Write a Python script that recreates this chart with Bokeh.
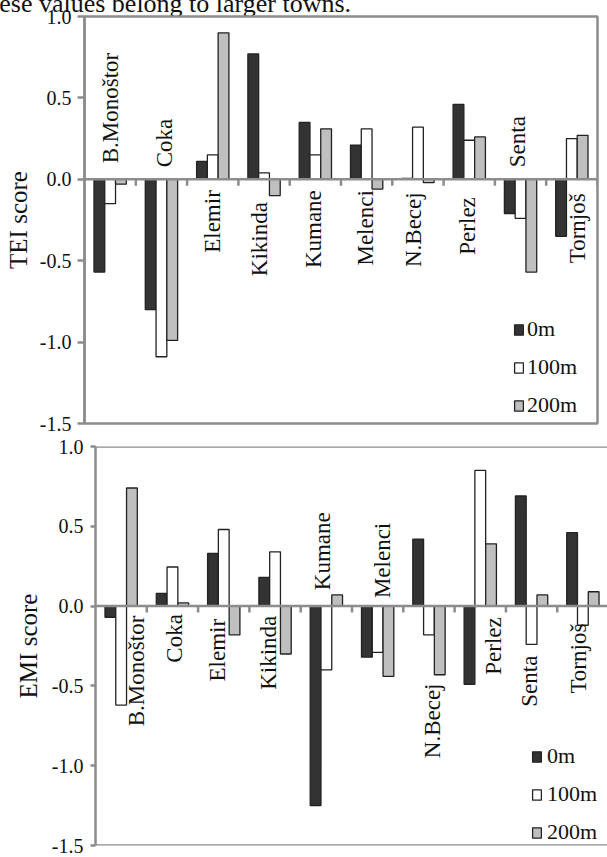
import math
from bokeh.plotting import figure
from bokeh.models import (ColumnDataSource, Range1d, FixedTicker, NumeralTickFormatter,
                          Legend, LegendItem, Span, Div)
from bokeh.embed import file_html
from bokeh.resources import INLINE
from bokeh.core.properties import value

# ---------------- data ----------------
towns = ["B.Monoštor", "Coka", "Elemir", "Kikinda", "Kumane",
         "Melenci", "N.Becej", "Perlez", "Senta", "Tornjoš"]
series_names = ["0m", "100m", "200m"]

tei_0m = [-0.57, -0.80, 0.11, 0.77, 0.35, 0.21, 0.005, 0.46, -0.21, -0.35]
tei_100m = [-0.15, -1.09, 0.15, 0.04, 0.15, 0.31, 0.32, 0.24, -0.24, 0.25]
tei_200m = [-0.03, -0.99, 0.90, -0.10, 0.31, -0.06, -0.02, 0.26, -0.57, 0.27]

emi_0m = [-0.07, 0.08, 0.33, 0.18, -1.25, -0.32, 0.42, -0.49, 0.69, 0.46]
emi_100m = [-0.62, 0.245, 0.48, 0.34, -0.40, -0.29, -0.18, 0.85, -0.24, -0.12]
emi_200m = [0.74, 0.02, -0.18, -0.30, 0.07, -0.44, -0.43, 0.39, 0.07, 0.09]

y_ticks = [-1.5, -1.0, -0.5, 0.0, 0.5, 1.0]

caption_text = "these values belong to larger towns."

# ---------------- layout / style ----------------
# vertical anchor of each rotated category label (data units): >0 the text
# starts there and reads upward, <0 the text ends there
tei_label_anchor = [0.098, 0.074, -0.067, -0.14, -0.067, -0.067, -0.08, -0.11, 0.074, -0.086]
emi_label_anchor = [-0.06, -0.05, -0.08, -0.06, 0.10, 0.05, -0.485, -0.07, -0.31, -0.11]
# horizontal nudge of each category label, in pixels
tei_label_nudge = [0, 3, 0, -5, -2, -1, -4, -2, -3.5, 6]
emi_label_nudge = [15, 2, -6, -6.5, -3.5, 5, 4, 13, -2, -4.5]

FONT = "Liberation Serif"
GRAY = "#8c8c8c"
FILLS = ["#333333", "#ffffff", "#bfbfbf"]
BAR_W = 0.21


def build(title, series, anchors, nudges, width, height, bl, br, bt, bb, x_end, y_start,
          legend_loc, legend_standoff, tick_out, label_standoff, title_standoff, boxed):
    n = len(towns)
    frame_w = width - bl - br
    px = x_end / frame_w  # data units per pixel along x
    centers = [i + 0.5 for i in range(n)]
    p = figure(width=width, height=height,
               x_range=Range1d(0, x_end), y_range=Range1d(y_start, 1.0),
               output_backend="svg", toolbar_location=None, x_axis_location=None,
               min_border_left=bl, min_border_right=br,
               min_border_top=bt, min_border_bottom=bb)
    p.grid.visible = False
    p.background_fill_color = "white"
    p.border_fill_color = None
    if boxed:
        p.outline_line_color = GRAY
        p.outline_line_width = 2.5
    else:
        p.outline_line_color = None
        for loc in (1.0, y_start):
            p.add_layout(Span(location=loc, dimension="width",
                              line_color=GRAY, line_width=2.5))

    # zero line with category separator ticks
    p.add_layout(Span(location=0, dimension="width", line_color=GRAY, line_width=2.5))
    bounds = [float(i) for i in range(1, n + 1)]
    p.segment(x0=bounds, y0=[0] * n, x1=bounds, y1=[-0.04] * n,
              line_color=GRAY, line_width=2.5)

    offs = [-BAR_W, 0.0, BAR_W]
    rends = []
    for vals, off, fc in zip(series, offs, FILLS):
        src = ColumnDataSource(dict(x=[c + off for c in centers], top=vals))
        r = p.vbar(x="x", top="top", bottom=0, width=BAR_W, source=src,
                   fill_color=fc, line_color="#222222", line_width=1.3)
        rends.append(r)

    up = dict(x=[], y=[], text=[])
    down = dict(x=[], y=[], text=[])
    for c, a, t, nd in zip(centers, anchors, towns, nudges):
        d = up if a > 0 else down
        d["x"].append(c + nd * px)
        d["y"].append(a)
        d["text"].append(t)
    for d, al in ((up, "left"), (down, "right")):
        p.text(x="x", y="y", text="text", source=ColumnDataSource(d),
               angle=math.pi / 2, text_align=al, text_baseline="middle",
               text_font=value(FONT), text_font_size="23px", text_color="#111111")

    legend = Legend(items=[LegendItem(label=nm, renderers=[r])
                           for nm, r in zip(series_names, rends)],
                    location=legend_loc, orientation="vertical",
                    background_fill_alpha=0, border_line_alpha=0,
                    glyph_width=11, glyph_height=13, label_height=21,
                    label_text_font=FONT, label_text_font_size="22px",
                    label_text_color="#111111",
                    label_standoff=legend_standoff, spacing=12, padding=0, margin=0)
    p.add_layout(legend)

    ax = p.yaxis[0]
    ax.ticker = FixedTicker(ticks=y_ticks)
    ax.formatter = NumeralTickFormatter(format="0.0")
    ax.axis_line_color = GRAY
    ax.axis_line_width = 2.5
    ax.major_tick_line_color = GRAY
    ax.major_tick_line_width = 2.5
    ax.major_tick_out = tick_out
    ax.major_tick_in = 0
    ax.minor_tick_line_color = None
    ax.major_label_text_font = FONT
    ax.major_label_text_font_size = "20px"
    ax.major_label_text_color = "#111111"
    ax.major_label_standoff = label_standoff
    ax.axis_label = title
    ax.axis_label_text_font = FONT
    ax.axis_label_text_font_size = "25px"
    ax.axis_label_text_font_style = "normal"
    ax.axis_label_text_color = "#111111"
    ax.axis_label_standoff = title_standoff
    return p


caption = Div(
    text=('<div style="font-family:\'Liberation Serif\'; font-size:26px; line-height:26px;'
          ' margin-top:-13px; margin-left:-21px; white-space:nowrap; color:#111111;">'
          + caption_text + '</div>'),
    width=607, height=4, margin=0, styles={"overflow": "visible"})

p1 = build("TEI score", [tei_0m, tei_100m, tei_200m], tei_label_anchor, tei_label_nudge,
           width=607, height=431, bl=84, br=10, bt=12, bb=12, x_end=10, y_start=-1.5,
           legend_loc=(429, 5), legend_standoff=3, tick_out=7, label_standoff=6,
           title_standoff=5, boxed=True)

p2 = build("EMI score", [emi_0m, emi_100m, emi_200m], emi_label_anchor, emi_label_nudge,
           width=607, height=422, bl=95, br=0, bt=11, bb=12, x_end=9.98, y_start=-1.5,
           legend_loc=(436, 0), legend_standoff=5, tick_out=5, label_standoff=7,
           title_standoff=7, boxed=False)

open("out.html", "w").write(file_html([caption, p1, p2], INLINE))
